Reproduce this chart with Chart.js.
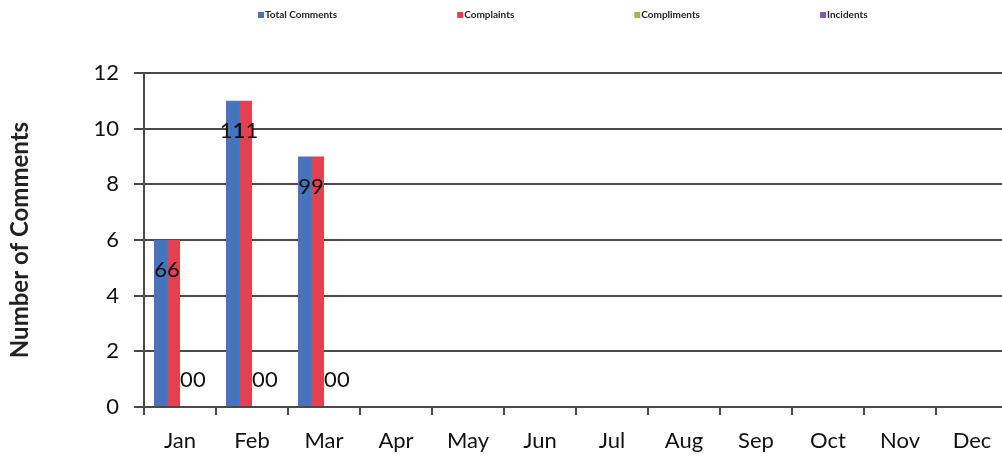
<!DOCTYPE html>
<html>
<head>
<meta charset="utf-8">
<script src="https://cdn.jsdelivr.net/npm/chart.js@4"></script>
<style>
  html, body { margin: 0; padding: 0; overflow: hidden; background: #fff; }
  #wrap { position: relative; width: 1012px; height: 457px; }
</style>
</head>
<body>
<div id="wrap"><canvas id="c"></canvas></div>
<script>
// Monthly feedback counts
const months = ['Jan', 'Feb', 'Mar', 'Apr', 'May', 'Jun', 'Jul', 'Aug', 'Sep', 'Oct', 'Nov', 'Dec'];
const totalComments = [6, 11, 9, null, null, null, null, null, null, null, null, null];
const complaints    = [6, 11, 9, null, null, null, null, null, null, null, null, null];
const compliments   = [0, 0, 0, null, null, null, null, null, null, null, null, null];
const incidents     = [0, 0, 0, null, null, null, null, null, null, null, null, null];
const yMin = 0, yMax = 12, yStep = 2;

const FONT = 'Lato, "Open Sans", sans-serif';

// Value labels written over each bar
const valueLabels = {
  id: 'valueLabels',
  afterDatasetsDraw(chart) {
    const ctx = chart.ctx;
    ctx.save();
    ctx.font = '22px ' + FONT;
    ctx.fillStyle = '#111';
    ctx.textAlign = 'center';
    ctx.textBaseline = 'middle';
    chart.data.datasets.forEach((ds, i) => {
      const meta = chart.getDatasetMeta(i);
      meta.data.forEach((bar, j) => {
        const v = ds.data[j];
        if (v === null || v === undefined) return;
        const y = v > 0 ? bar.y + 30 : bar.base - 27;
        ctx.fillText(String(v), bar.x, y);
      });
    });
    ctx.restore();
  }
};

// Small legend row across the top
const topLegend = {
  id: 'topLegend',
  afterDraw(chart) {
    const ctx = chart.ctx;
    ctx.save();
    ctx.font = 'bold 10px ' + FONT;
    ctx.textBaseline = 'middle';
    ctx.textAlign = 'left';
    let x = 258;
    const y = 15;
    chart.data.datasets.forEach(ds => {
      ctx.fillStyle = ds.backgroundColor;
      ctx.fillRect(x, y - 3, 6, 6);
      ctx.fillStyle = '#222';
      ctx.fillText(ds.label, x + 7, y);
      x += 7 + ctx.measureText(ds.label).width + 120;
    });
    ctx.restore();
  }
};

new Chart(document.getElementById('c'), {
  type: 'bar',
  data: {
    labels: months,
    datasets: [
      { label: 'Total Comments', data: totalComments, backgroundColor: '#4873c3' },
      { label: 'Complaints',     data: complaints,    backgroundColor: '#e2424f' },
      { label: 'Compliments',    data: compliments,   backgroundColor: '#9bbb59' },
      { label: 'Incidents',      data: incidents,     backgroundColor: '#7a5cc0' }
    ]
  },
  options: {
    responsive: true,
    maintainAspectRatio: false,
    animation: false,
    layout: { padding: { top: 73, right: 4, left: 0, bottom: 0 } },
    datasets: { bar: { categoryPercentage: 0.722, barPercentage: 1.0 } },
    plugins: {
      legend: { display: false },
      tooltip: { enabled: false }
    },
    scales: {
      x: {
        offset: true,
        grid: { display: true, drawOnChartArea: false, drawTicks: true, tickLength: 8, color: '#4a4a4a', lineWidth: 2 },
        border: { display: true, color: '#4a4a4a', width: 2 },
        ticks: { color: '#111', font: { family: FONT, size: 22 }, padding: 13, maxRotation: 0, autoSkip: false },
        afterFit(scale) { scale.height = 50; }
      },
      y: {
        min: yMin,
        max: yMax,
        ticks: { stepSize: yStep, color: '#111', font: { family: FONT, size: 22 }, padding: 15 },
        grid: { color: '#4a4a4a', lineWidth: 2, drawTicks: true, tickLength: 10 },
        border: { display: true, color: '#4a4a4a', width: 2 },
        title: {
          display: true,
          text: 'Number of Comments',
          color: '#222',
          font: { family: FONT, size: 24, weight: 'bold' },
          padding: { top: 6, bottom: 0 }
        },
        afterFit(scale) { scale.width = 144; }
      }
    }
  },
  plugins: [valueLabels, topLegend]
});
</script>
</body>
</html>
